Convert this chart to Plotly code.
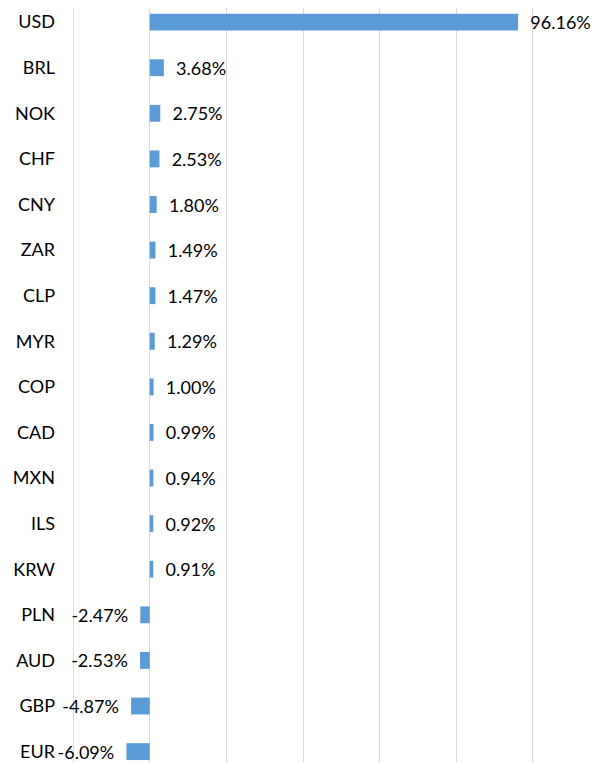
import plotly.graph_objects as go

currencies = ["USD", "BRL", "NOK", "CHF", "CNY", "ZAR", "CLP", "MYR", "COP",
              "CAD", "MXN", "ILS", "KRW", "PLN", "AUD", "GBP", "EUR"]
values = [96.16, 3.68, 2.75, 2.53, 1.80, 1.49, 1.47, 1.29, 1.00,
          0.99, 0.94, 0.92, 0.91, -2.47, -2.53, -4.87, -6.09]
x_ticks = [-20, 0, 20, 40, 60, 80, 100]

positions = list(range(len(currencies)))
NB = "\u00a0\u00a0"
labels = [(NB + f"{v:.2f}%") if v >= 0 else (f"{v:.2f}%" + NB) for v in values]

fig = go.Figure(go.Bar(
    x=values,
    y=positions,
    orientation="h",
    width=0.37,
    marker=dict(color="#5B9BD5", line=dict(width=0)),
    text=labels,
    textposition="outside",
    constraintext="none",
    cliponaxis=False,
    textfont=dict(family="Lato", size=18, color="#000000"),
    hoverinfo="skip",
))

fig.update_layout(
    template="none",
    width=594, height=755,
    margin=dict(l=64, r=68, t=0, b=0, autoexpand=False),
    paper_bgcolor="white", plot_bgcolor="white",
    showlegend=False,
    font=dict(family="Lato", size=18, color="#000000"),
    xaxis=dict(
        range=[-20.3, 100.3], tickvals=x_ticks, showticklabels=False,
        showgrid=True, gridcolor="#D9D9D9", gridwidth=1,
        zeroline=True, zerolinecolor="#D9D9D9", zerolinewidth=1,
        showline=False, fixedrange=True, automargin=False, ticks="",
    ),
    yaxis=dict(
        range=[16.25, -0.31], tickvals=positions, ticktext=currencies,
        showgrid=False, zeroline=False, showline=False,
        ticks="", ticklabelstandoff=16, automargin=False,
        tickfont=dict(family="Lato", size=18, color="#000000"),
    ),
)

fig.write_html("out.html")
